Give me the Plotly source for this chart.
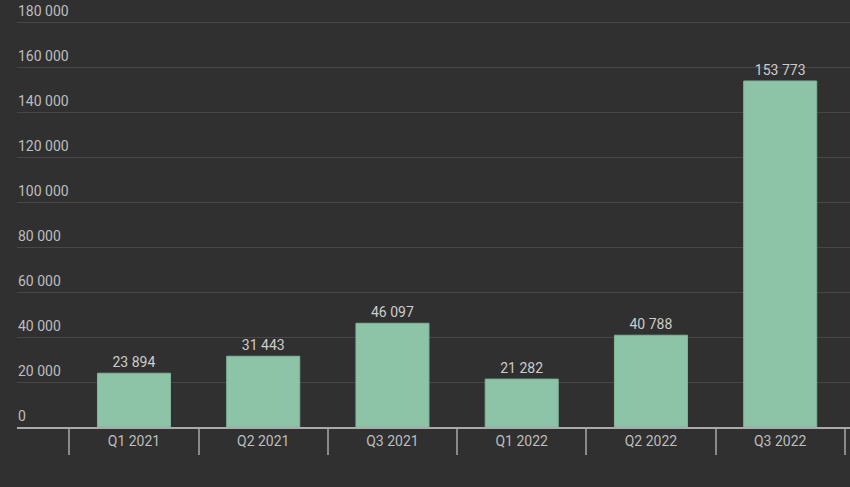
import plotly.graph_objects as go

categories = ["Q1 2021", "Q2 2021", "Q3 2021", "Q1 2022", "Q2 2022", "Q3 2022"]
values = [23894, 31443, 46097, 21282, 40788, 153773]
y_ticks = [0, 20000, 40000, 60000, 80000, 100000, 120000, 140000, 160000, 180000]

BG = "#303030"
BAR = "#8dc4a8"
TXT = "#bdbdbd"


def fmt(v):
    return f"{v:,}".replace(",", " ")


fig = go.Figure()
fig.add_trace(go.Bar(
    x=categories, y=values,
    marker=dict(color=BAR, line=dict(color="#7fb59a", width=1)),
    width=0.565,
    text=[fmt(v) for v in values],
    textposition="outside",
    textfont=dict(family="Roboto", size=14, color="#cccccc"),
    cliponaxis=False,
    hoverinfo="skip",
))

for t in y_ticks:
    fig.add_annotation(
        xref="paper", yref="y", x=0, y=t,
        xanchor="left", yanchor="bottom",
        text=fmt(t), showarrow=False,
        font=dict(family="Roboto", size=14, color=TXT),
        xshift=-1, yshift=1,
    )

fig.update_layout(
    width=850, height=487,
    paper_bgcolor=BG, plot_bgcolor=BG,
    margin=dict(l=17, r=0, t=10, b=60),
    showlegend=False,
    font=dict(family="Roboto", size=14, color=TXT),
    xaxis=dict(
        type="category",
        range=[-0.905, 5.54],
        tickson="boundaries",
        ticks="outside", ticklen=26, tickcolor="#8a8a8a", tickwidth=2,
        showline=True, linecolor="#aaaaaa", linewidth=2,
        showgrid=False,
        tickfont=dict(family="Roboto", size=14, color=TXT),
    ),
    yaxis=dict(
        range=[0, 185333],
        tickvals=y_ticks,
        showticklabels=False,
        showgrid=True, gridcolor="#474747", gridwidth=1,
        zeroline=False,
        showline=False,
    ),
)

fig.write_html(
    "out.html",
    config={"displayModeBar": False},
    post_script="document.body.style.margin='0';document.body.style.background='#303030';",
)
